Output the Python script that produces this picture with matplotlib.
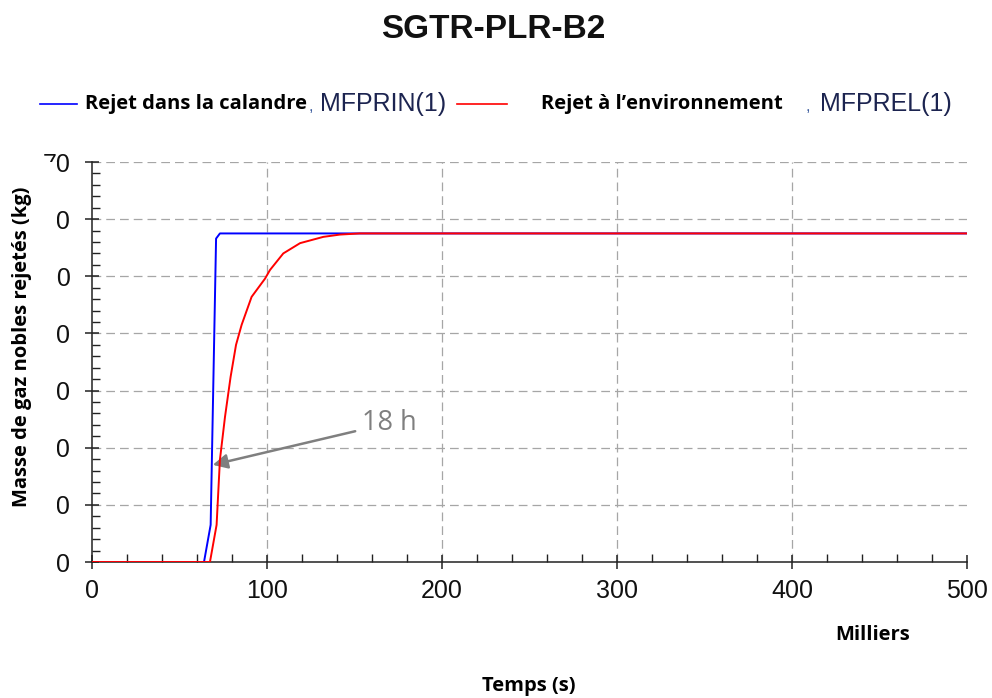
import matplotlib
matplotlib.use('Agg')
import matplotlib.pyplot as plt
from matplotlib.lines import Line2D
from matplotlib.patches import Rectangle

# Masse cumulée de gaz nobles rejetés (kg) en fonction du temps (milliers de s)
t_calandre = [0, 64, 67.8, 70.9, 73.1, 500]
m_calandre = [0, 0, 6.5, 56.6, 57.5, 57.5]

t_env = [0, 67.4, 71.2, 73.1, 76, 79.2, 82.3, 85.5, 91.2, 98.9, 101.7,
         109.3, 118.9, 132.2, 141.7, 153, 500]
m_env = [0, 0, 6.5, 17.9, 25.4, 32.4, 38.0, 41.5, 46.4, 49.6, 51.1,
         54.0, 55.8, 56.9, 57.3, 57.5, 57.5]

x_ticks = [0, 100, 200, 300, 400, 500]
y_ticks = [0, 10, 20, 30, 40, 50, 60, 70]

W, H = 992, 698
fig = plt.figure(figsize=(W / 100, H / 100), dpi=100)

def fx(px):
    return px / W

def fy(py):
    return 1 - py / H

ax = fig.add_axes([fx(92), fy(562), fx(967) - fx(92), fy(162) - fy(562)])

ax.plot(t_calandre, m_calandre, color='#0000ff', lw=1.4, zorder=3)
ax.plot(t_env, m_env, color='#ff0000', lw=1.4, zorder=4)

ax.set_xlim(0, 500)
ax.set_ylim(0, 70)
ax.set_xticks(x_ticks)
ax.set_yticks(y_ticks)
ax.set_xticks(range(0, 501, 20), minor=True)
ax.set_yticks(range(0, 71, 2), minor=True)

for v in x_ticks[1:-1]:
    ax.axvline(v, color='#a6a6a6', lw=0.9, ls=(0, (7, 4)), zorder=1)
for v in y_ticks[1:]:
    ax.axhline(v, color='#a6a6a6', lw=0.9, ls=(0, (7, 4)), zorder=1)

for s in ['top', 'right']:
    ax.spines[s].set_visible(False)
for s in ['left', 'bottom']:
    ax.spines[s].set_color('#222222')
    ax.spines[s].set_linewidth(1.1)

ax.tick_params(which='major', direction='inout', length=10, width=1.1,
               color='#222222', labelsize=18, pad=7)
ax.tick_params(axis='y', which='major', pad=10.5)
ax.tick_params(which='minor', direction='in', length=5.5, width=1.0,
               color='#222222')
for lab in ax.get_xticklabels() + ax.get_yticklabels():
    lab.set_fontfamily('Liberation Sans')
    lab.set_color('#111111')

# bande blanche masquant la partie gauche des étiquettes de l'axe des ordonnées
fig.patches.append(Rectangle((fx(36), fy(575)), fx(57.5) - fx(36), fy(162) - fy(575),
                             transform=fig.transFigure, facecolor='white',
                             edgecolor='none', zorder=5))

ax.annotate('18 h', xy=(69, 17), xytext=(154.3, 24.3), ha='left', va='center',
            fontsize=19.5, family='Open Sans', color='#7f7f7f',
            arrowprops=dict(arrowstyle='-|>', color='#7f7f7f', lw=1.8,
                            mutation_scale=22, shrinkA=3, shrinkB=0))

fig.text(fx(493), fy(30), 'SGTR-PLR-B2', ha='center', va='center',
         fontsize=24, fontweight='bold', family='Liberation Sans', color='#111111')

fig.text(fx(22), fy(347), 'Masse de gaz nobles rejetés (kg)', rotation=90,
         ha='center', va='center', fontsize=14.5, fontweight='bold', family='Open Sans')
fig.text(fx(873), fy(635), 'Milliers', ha='center', va='center',
         fontsize=14.5, fontweight='bold', family='Open Sans')
fig.text(fx(529), fy(686), 'Temps (s)', ha='center', va='center',
         fontsize=14.5, fontweight='bold', family='Open Sans')

# légende
leg_y = 104
fig.add_artist(Line2D([fx(40), fx(77)], [fy(leg_y), fy(leg_y)], color='#0000ff', lw=1.2))
fig.text(fx(85), fy(109), 'Rejet dans la calandre', ha='left', va='baseline',
         fontsize=14.5, fontweight='bold', family='Open Sans')
fig.text(fx(309), fy(111), ',', ha='left', va='baseline', fontsize=12,
         family='Liberation Sans', color='#4060a0')
fig.text(fx(320), fy(111), 'MFPRIN(1)', ha='left', va='baseline', fontsize=18,
         family='Liberation Sans', color='#1c2450')
fig.add_artist(Line2D([fx(457), fx(507)], [fy(leg_y), fy(leg_y)], color='#ff0000', lw=1.2))
fig.text(fx(541), fy(109), 'Rejet à l’environnement', ha='left', va='baseline',
         fontsize=14.5, fontweight='bold', family='Open Sans')
fig.text(fx(806), fy(111), ',', ha='left', va='baseline', fontsize=12,
         family='Liberation Sans', color='#4060a0')
fig.text(fx(820), fy(111), 'MFPREL(1)', ha='left', va='baseline', fontsize=18,
         family='Liberation Sans', color='#1c2450')

fig.savefig('out.png', dpi=100, facecolor='white')
